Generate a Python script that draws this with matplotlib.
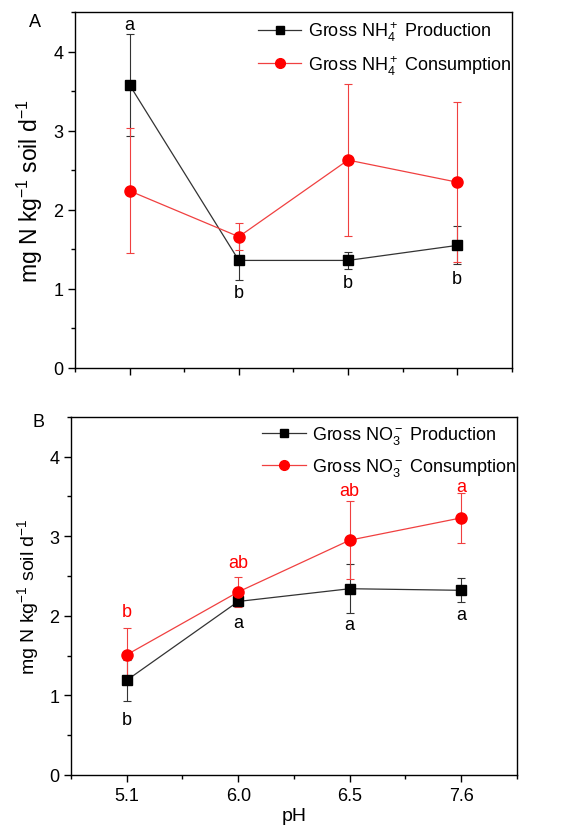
import matplotlib
matplotlib.use("Agg")
import matplotlib.pyplot as plt
from matplotlib.ticker import MultipleLocator, FixedLocator
from matplotlib.lines import Line2D

plt.rcParams['font.family'] = ['Liberation Sans', 'DejaVu Sans']
plt.rcParams['mathtext.fontset'] = 'custom'
plt.rcParams['mathtext.rm'] = 'Liberation Sans'
plt.rcParams['mathtext.it'] = 'Liberation Sans:italic'

ph_labels = ["5.1", "6.0", "6.5", "7.6"]

# Panel A
nh4_prod = [3.58, 1.36, 1.36, 1.55]
nh4_prod_err = [0.64, 0.25, 0.11, 0.24]
nh4_cons = [2.24, 1.66, 2.63, 2.35]
nh4_cons_err = [0.79, 0.17, 0.96, 1.01]
nh4_letters = ["a", "b", "b", "b"]
nh4_letter_y = [4.35, 0.96, 1.08, 1.13]

# Panel B
no3_prod = [1.19, 2.18, 2.34, 2.32]
no3_prod_err = [0.26, 0.06, 0.31, 0.15]
no3_cons = [1.51, 2.30, 2.95, 3.23]
no3_cons_err = [0.34, 0.19, 0.49, 0.31]
no3_prod_letters = ["b", "a", "a", "a"]
no3_prod_letter_y = [0.70, 1.92, 1.89, 2.02]
no3_cons_letters = ["b", "ab", "ab", "a"]
no3_cons_letter_y = [2.06, 2.67, 3.57, 3.62]

BLACK = "#000000"
LINE_BLACK = "#333333"
RED = "#ff0000"
LINE_RED = "#f04040"

fig = plt.figure(figsize=(5.77, 8.29), dpi=100)
axA = fig.add_axes([0.130, 0.555, 0.757, 0.429])
axB = fig.add_axes([0.123, 0.064, 0.773, 0.432])

x = list(range(len(ph_labels)))

def style(ax, show_labels, ylab_size):
    ax.set_xlim(-0.5, 3.5)
    ax.set_ylim(0, 4.5)
    ax.xaxis.set_major_locator(FixedLocator(x))
    ax.xaxis.set_minor_locator(FixedLocator([-0.5, 0.5, 1.5, 2.5, 3.5]))
    ax.yaxis.set_major_locator(MultipleLocator(1))
    ax.yaxis.set_minor_locator(MultipleLocator(0.5))
    ax.tick_params(which='both', direction='out', top=False, right=False, labelsize=13)
    ax.tick_params(which='major', length=5, width=1)
    ax.tick_params(which='minor', length=3, width=1)
    if show_labels:
        ax.set_xticklabels(ph_labels)
    else:
        ax.set_xticklabels([])
    for s in ax.spines.values():
        s.set_linewidth(1.0)
    ax.set_ylabel("mg N kg$^{-1}$ soil d$^{-1}$", fontsize=ylab_size, labelpad=6)

def plot_series(ax, y, err, mcolor, lcolor, marker, ms):
    ax.errorbar(x, y, yerr=err, color=lcolor, ecolor=lcolor, elinewidth=0.8,
                capsize=3, capthick=0.8, linewidth=0.9, marker=marker,
                markersize=ms, markerfacecolor=mcolor, markeredgecolor=mcolor)

def handles(lbl1, lbl2):
    h1 = Line2D([], [], color=LINE_BLACK, lw=0.9, marker='s', ms=5.5,
                mfc=BLACK, mec=BLACK, label=lbl1)
    h2 = Line2D([], [], color=LINE_RED, lw=0.9, marker='o', ms=7,
                mfc=RED, mec=RED, label=lbl2)
    return [h1, h2]

def add_legend(ax, lbl1, lbl2):
    ax.legend(handles=handles(lbl1, lbl2), loc='upper right', frameon=False,
              fontsize=13, handlelength=2.4, handletextpad=0.35,
              borderaxespad=0.0, labelspacing=0.55,
              bbox_to_anchor=(1.014, 1.0))

plot_series(axA, nh4_prod, nh4_prod_err, BLACK, LINE_BLACK, 's', 6.5)
plot_series(axA, nh4_cons, nh4_cons_err, RED, LINE_RED, 'o', 8)
for xi, t, yy in zip(x, nh4_letters, nh4_letter_y):
    axA.text(xi, yy, t, ha='center', va='center', fontsize=13, color='black')
style(axA, False, 16.5)
add_legend(axA, "Gross NH$_4^+$ Production", "Gross NH$_4^+$ Consumption")
fig.text(0.061, 0.973, "A", fontsize=13, ha='center', va='center')

plot_series(axB, no3_prod, no3_prod_err, BLACK, LINE_BLACK, 's', 6.5)
plot_series(axB, no3_cons, no3_cons_err, RED, LINE_RED, 'o', 8)
for xi, t, yy in zip(x, no3_prod_letters, no3_prod_letter_y):
    axB.text(xi, yy, t, ha='center', va='center', fontsize=13, color='black')
for xi, t, yy in zip(x, no3_cons_letters, no3_cons_letter_y):
    axB.text(xi, yy, t, ha='center', va='center', fontsize=13, color=RED)
style(axB, True, 14)
axB.set_xlabel("pH", fontsize=14, labelpad=2)
add_legend(axB, "Gross NO$_3^-$ Production", "Gross NO$_3^-$ Consumption")
fig.text(0.066, 0.490, "B", fontsize=13, ha='center', va='center')

fig.savefig("out.png", dpi=100)
